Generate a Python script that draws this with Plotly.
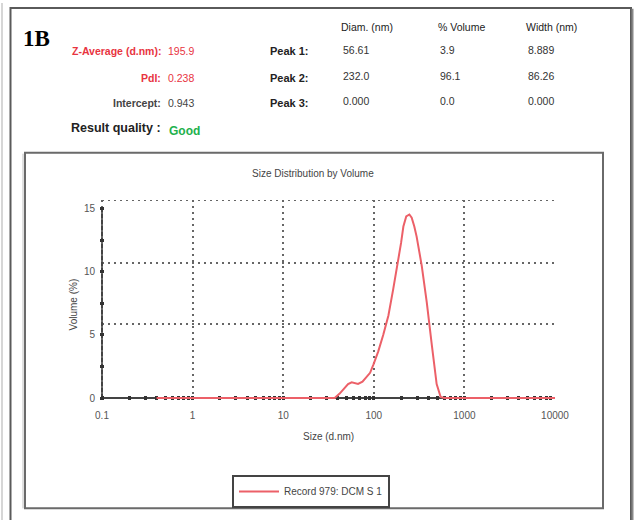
import plotly.graph_objects as go

# ---- data ----
size_nm = [0.4, 1, 10, 30, 37, 42, 46, 52, 57, 62, 67, 75, 83, 91, 99, 112, 127,
           145, 164, 182, 200, 212, 228, 247, 262, 280, 297, 338, 384, 436, 494,
           547, 600, 1000, 10000]
volume_pct = [0, 0, 0, 0, 0, 0.35, 0.7, 1.1, 1.25, 1.2, 1.12, 1.3, 1.64, 2.0, 2.65,
              3.7, 5.0, 6.55, 8.65, 10.5, 12.3, 13.6, 14.4, 14.55, 14.3, 13.6, 12.8,
              10.5, 7.6, 4.25, 1.1, 0.08, 0, 0, 0]

x_tickvals = [0.1, 1, 10, 100, 1000, 10000]
x_ticktext = ["0.1", "1", "10", "100", "1000", "10000"]
y_tickvals = [0, 5, 10, 15]
y_gridvals = [5.86, 10.7, 15.7]

left_labels = ["Z-Average (d.nm):", "PdI:", "Intercept:"]
left_values = ["195.9", "0.238", "0.943"]
peak_labels = ["Peak 1:", "Peak 2:", "Peak 3:"]
col_headers = ["Diam. (nm)", "% Volume", "Width (nm)"]
peak_diam = ["56.61", "232.0", "0.000"]
peak_vol = ["3.9", "96.1", "0.0"]
peak_width = ["8.889", "86.26", "0.000"]
quality = "Good"
series_name = "Record 979: DCM S 1"
chart_title = "Size Distribution by Volume"

# ---- layout helpers (pixel -> paper) ----
W, H = 634, 520
L, R, T, B = 100, 555, 200, 403   # plot area slightly padded so the 0-line is visible


def fx(px):
    return (px - L) / (R - L)


def fy(py):
    return (B - py) / (B - T)


RED = "#e8343f"
LINE_RED = "#ec6068"
GREEN = "#22b14c"
TXT = "#333333"
SANS = "Liberation Sans, Arial, sans-serif"
GRID = "#666666"

fig = go.Figure()
fig.add_trace(go.Scatter(
    x=size_nm, y=volume_pct, mode="lines", name=series_name,
    line=dict(color=LINE_RED, width=2), showlegend=True,
))

ann = []


def text(px, py, s, size=11, color=TXT, xanchor="left", bold=False, family=SANS, angle=0):
    ann.append(dict(
        x=fx(px), y=fy(py), xref="paper", yref="paper",
        text=("<b>%s</b>" % s) if bold else s, showarrow=False,
        xanchor=xanchor, yanchor="middle", textangle=angle,
        font=dict(size=size, color=color, family=family),
    ))


# header block
text(21, 36, "1B", size=23, color="#000", bold=True,
     family="Liberation Serif, Times New Roman, serif")
left_rows_y = [49, 76, 102]
left_colors = [RED, RED, "#444"]
for lab, val, yy, col in zip(left_labels, left_values, left_rows_y, left_colors):
    text(163, yy, lab, size=10.5, color=col, xanchor="right", bold=True)
    text(166, yy, val, size=10.5, color=col)
text(163, 127, "Result quality :", size=12.5, color="#222", xanchor="right", bold=True)
text(167, 130, quality, size=12, color=GREEN, bold=True)

for lab, yy in zip(peak_labels, left_rows_y):
    text(268, yy, lab, size=11, color="#222", bold=True)

col_x = [339, 436, 524]
for hx, h in zip(col_x, col_headers):
    text(hx, 24, h, size=10.5, color="#222")
right_rows_y = [48, 74, 100]
for i, yy in enumerate(right_rows_y):
    for cx, arr in zip(col_x, [peak_diam, peak_vol, peak_width]):
        text(cx + 2, yy, arr[i], size=10.5, color="#333")

# chart texts
text(313, 173, chart_title, size=10, color="#444", xanchor="center")
text(328, 440, "Size (d.nm)", size=10, color="#444", xanchor="center")
text(73, 306, "Volume (%)", size=10, color="#444", xanchor="center", angle=-90)

shapes = []


def rect(x0, y0, x1, y1, color, width):
    shapes.append(dict(type="rect", xref="paper", yref="paper",
                       x0=fx(x0), x1=fx(x1), y0=fy(y0), y1=fy(y1),
                       line=dict(color=color, width=width), layer="above"))


def vline(px, y0, y1, color, width):
    shapes.append(dict(type="line", xref="paper", yref="paper",
                       x0=fx(px), x1=fx(px), y0=fy(y0), y1=fy(y1),
                       line=dict(color=color, width=width), layer="above"))


# outer and inner frames
vline(2, 0, 530, "#c8c8c8", 1.5)
rect(10.5, 5, 631, 540, "#5a5a5a", 2)
vline(632.5, 6, 540, "#888888", 2)
rect(25, 152, 603, 513, "#6a6a6a", 2)
vline(23, 153, 513, "#c0c0c0", 1)

xmin, xmax = x_tickvals[0], x_tickvals[-1]
# dotted horizontal grid lines
for gv in y_gridvals:
    shapes.append(dict(type="line", xref="x", yref="y", x0=xmin, x1=xmax, y0=gv, y1=gv,
                       line=dict(color=GRID, width=2, dash="2px,4px"), layer="below"))
# axis lines (x at 0, y from 0 to 15), drawn beneath the curve
shapes.append(dict(type="line", xref="x", yref="y", x0=xmin, x1=xmin, y0=0, y1=15,
                   line=dict(color="#444", width=2), layer="below"))
shapes.append(dict(type="line", xref="x", yref="y", x0=xmin, x1=xmax, y0=0, y1=0,
                   line=dict(color="#444", width=2), layer="below"))

fig.update_layout(
    width=W, height=H,
    margin=dict(l=L, r=W - R, t=T, b=H - B, pad=0),
    paper_bgcolor="white", plot_bgcolor="white",
    showlegend=True,
    legend=dict(x=fx(232), y=fy(479), xanchor="left", yanchor="top",
                xref="paper", yref="paper",
                bordercolor="#444", borderwidth=2, bgcolor="white",
                font=dict(size=10, color="#444", family=SANS),
                itemwidth=40, tracegroupgap=0),
    annotations=ann, shapes=shapes,
    font=dict(family=SANS),
)
px_per_decade = (555 - 102) / 5.0
px_per_unit = (401 - 200) / 15.7
fig.update_xaxes(
    type="log", range=[-1 - 2 / px_per_decade, 4], layer="below traces",
    tickvals=x_tickvals, ticktext=x_ticktext,
    ticks="inside", ticklen=4, tickwidth=3, tickcolor="#333",
    ticklabelstandoff=8,
    showline=False,
    showgrid=True, gridcolor=GRID, gridwidth=2, griddash="2px,4px",
    zeroline=False,
    tickfont=dict(size=10, color="#555", family=SANS),
    minor=dict(dtick="D1", ticks="inside", ticklen=4, tickwidth=3, tickcolor="#333",
               showgrid=False),
)
fig.update_yaxes(
    range=[-2 / px_per_unit, 15.7], layer="below traces",
    tickvals=y_tickvals, ticktext=[str(v) for v in y_tickvals],
    ticks="inside", ticklen=4, tickwidth=3, tickcolor="#333",
    ticklabelstandoff=4,
    showline=False, showgrid=False, zeroline=False,
    tickfont=dict(size=10, color="#555", family=SANS),
    minor=dict(tickvals=[2.5, 7.5, 12.5], ticks="inside", ticklen=4, tickwidth=3,
               tickcolor="#333", showgrid=False),
)

fig.write_html("out.html")
